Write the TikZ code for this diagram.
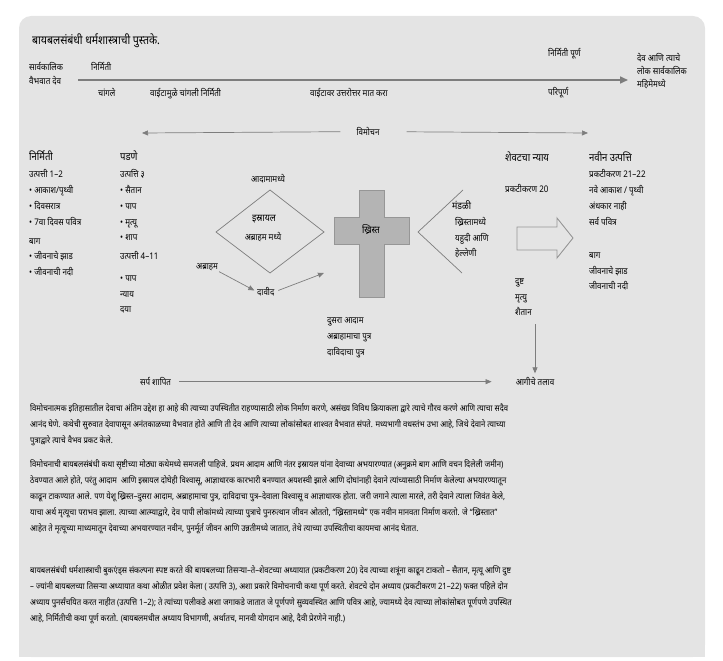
\documentclass[tikz,border=0pt]{standalone}
\usepackage{fontspec}
\setmainfont{Noto Sans}[Script=Devanagari, FakeStretch=0.88]
\usetikzlibrary{arrows.meta, positioning}

\definecolor{panelgray}{RGB}{228,228,228}
\definecolor{linegray}{RGB}{125,125,125}
\definecolor{crossgray}{RGB}{180,180,180}
\definecolor{crossedge}{RGB}{150,150,150}

\begin{document}
\begin{tikzpicture}[x=1pt, y=-1pt,
  lbl/.style={anchor=mid west, inner sep=0pt, font=\fontsize{9.1}{11}\selectfont},
  hd/.style={anchor=mid west, inner sep=0pt, font=\fontsize{10.8}{13}\selectfont\bfseries},
  sub/.style={anchor=mid, inner sep=0pt, font=\fontsize{10}{12}\selectfont\bfseries},
  gline/.style={draw=linegray, line width=0.7pt},
  garr/.style={gline, -{Triangle[length=6pt, width=5pt]}},
  para/.style={anchor=north west, inner sep=0pt, align=left, font=\fontsize{8.7}{16}\selectfont}]
\useasboundingbox (0,0) rectangle (723,661);
\fill[panelgray, rounded corners=12pt] (19,16) rectangle (705,657);
\fill[panelgray] (19,40) rectangle (705,657);

%% top time line
\node[hd, font=\fontsize{12}{14}\selectfont\bfseries] (title) at (32,42) {बायबलसंबंधी धर्मशास्त्राची पुस्तके.};
\node[lbl] (eternal1) at (29,68) {सार्वकालिक};
\node[lbl] (eternal2) at (29,82) {वैभवात देव};
\coordinate (tl-a) at (78,80);
\coordinate (tl-b) at (628,80);
\draw[garr, line width=1.6pt, -{Triangle[length=8pt, width=7pt]}] (tl-a) -- (tl-b);
\node[lbl] (crt) at (91,68) {निर्मिती};
\node[lbl] (good) at (98,94) {चांगले};
\node[lbl] (goodevil) at (150,94) {वाईटामुळे चांगली निर्मिती};
\node[lbl] (overcome) at (310,94) {वाईटावर उत्तरोत्तर मात करा};
\node[lbl] (crtdone) at (548,54) {निर्मिती पूर्ण};
\node[lbl] (perfect) at (548,93) {परिपूर्ण};
\node[lbl] (glory1) at (637,59) {देव आणि त्याचे};
\node[lbl] (glory2) at (637,72) {लोक सार्वकालिक};
\node[lbl] (glory3) at (637,85) {महिमेमध्ये};

%% redemption line
\node[lbl, anchor=mid] (redemp) at (368,133) {विमोचन};
\coordinate (rd-a) at (142,133);
\coordinate (rd-b) at (588,133);
\draw[garr, shorten <=16pt] (redemp.west) -- (rd-a);
\draw[garr, shorten <=27pt] (redemp.east) -- (rd-b);

%% creation / fall
\node[hd] (creation) at (29,158) {निर्मिती};
\foreach \y/\t in {175/{उत्पत्ती 1–2}, 191/{• आकाश/पृथ्वी}, 207/{• दिवसरात्र},
  223/{• 7वा दिवस पवित्र}, 242/{बाग}, 257/{• जीवनाचे झाड}, 273/{• जीवनाची नदी}}
  \node[lbl] (cr\y) at (29,\y) {\t};

\node[hd] (fall) at (120,158) {पडणे};
\foreach \y/\t in {175/{उत्पत्ति ३}, 191/{• सैतान}, 207/{• पाप}, 223/{• मृत्यू},
  238/{• शाप}, 257/{उत्पत्ती 4–11}, 279/{• पाप}, 295/{न्याय}, 310/{दया}}
  \node[lbl] (fl\y) at (120,\y) {\t};

%% israel
\draw[gline] (270,190) -- (324,232) -- (270,273) -- (216,232) -- cycle;
\node[lbl, anchor=mid] (inadam) at (268,180) {आदामामध्ये};
\node[sub] (israel) at (264,219) {इस्रायल};
\node[lbl, anchor=mid] (inabr) at (263,238) {अब्राहम मध्ये};
\node[lbl] (abraham) at (196,267) {अब्राहम};
\node[lbl] (david) at (257,293) {दावीद};
\coordinate (cross-in) at (324,273);
\draw[garr, shorten <=1pt, shorten >=3pt] (abraham.south east) -- (david.west);
\draw[garr, shorten <=4pt] (david.east) -- (cross-in);

%% christ
\fill[crossgray, draw=crossedge] (359,190) -- (384,190) -- (384,217) -- (409,217)
  -- (409,244) -- (384,244) -- (384,297) -- (359,297) -- (359,244) -- (334,244)
  -- (334,217) -- (359,217) -- cycle;
\node[sub] (christ) at (371,231) {ख्रिस्त};
\node[lbl] (adam2) at (327,321) {दुसरा आदाम};
\node[lbl] (sonabr) at (327,337) {अब्राहामाचा पुत्र};
\node[lbl] (sondav) at (327,353) {दाविदाचा पुत्र};

%% church
\draw[gline] (463,190) -- (418,232) -- (462,273);
\node[sub, anchor=mid west] (church) at (452,207) {मंडळी};
\node[lbl] (inchrist) at (455,223) {ख्रिस्तामध्ये};
\node[lbl] (jews) at (455,239) {यहुदी आणि};
\node[lbl] (greeks) at (455,254) {हेल्लेणी};

%% judgment
\node[hd] (judg) at (505,159) {शेवटचा न्याय};
\node[lbl] (rev20) at (505,190) {प्रकटीकरण 20};
\draw[draw=linegray!80, line width=0.9pt] (517,227) -- (557,227) -- (557,218) -- (573,238)
  -- (557,258) -- (557,250) -- (517,250) -- cycle;
\node[lbl] (evil) at (515,282) {दुष्ट};
\node[lbl] (death) at (515,298) {मृत्यु};
\node[lbl] (satan) at (515,313) {शैतान};

%% new creation
\node[hd] (newcr) at (589,159) {नवीन उत्पत्ति};
\foreach \y/\t in {175/{प्रकटीकरण 21–22}, 191/{नवे आकाश / पृथ्वी}, 207/{अंधकार नाही},
  223/{सर्व पवित्र}, 256/{बाग}, 272/{जीवनाचे झाड}, 287/{जीवनाची नदी}}
  \node[lbl] (nc\y) at (589,\y) {\t};

%% lake of fire
\node[lbl] (serpent) at (140,383) {सर्प शापित};
\node[lbl, anchor=mid] (lake) at (535,383) {आगीचे तलाव};
\draw[garr, shorten <=8pt, shorten >=24pt] (serpent.east) -- (lake.west);
\draw[garr, shorten <=8pt, shorten >=4pt] (lake.north |- satan.south) -- (lake.north);

%% text
\node[para] (p1) at (30,404) {विमोचनात्मक इतिहासातील देवाचा अंतिम उद्देश हा आहे की त्याच्या उपस्थितीत राहण्यासाठी लोक निर्माण करणे, असंख्य विविध क्रियाकला द्वारे त्याचे गौरव करणे आणि त्याचा सदैव\\
आनंद घेणे. कथेची सुरुवात देवापासून अनंतकाळच्या वैभवात होते आणि ती देव आणि त्याच्या लोकांसोबत शाश्वत वैभवात संपते. मध्यभागी वधस्तंभ उभा आहे, जिथे देवाने त्याच्या\\
पुत्राद्वारे त्याचे वैभव प्रकट केले.};
\node[para] (p2) at (30,460) {विमोचनाची बायबलसंबंधी कथा सृष्टीच्या मोठ्या कथेमध्ये समजली पाहिजे. प्रथम आदाम आणि नंतर इस्रायल यांना देवाच्या अभयारण्यात (अनुक्रमे बाग आणि वचन दिलेली जमीन)\\
ठेवण्यात आले होते, परंतु आदाम \ आणि इस्रायल दोघेही विश्वासू, आज्ञाधारक कारभारी बनण्यात अयशस्वी झाले आणि दोघांनाही देवाने त्यांच्यासाठी निर्माण केलेल्या अभयारण्यातून\\
काढून टाकण्यात आले. पण येशू ख्रिस्त–दुसरा आदाम, अब्राहामाचा पुत्र, दाविदाचा पुत्र–देवाला विश्वासू व आज्ञाधारक होता. जरी जगाने त्याला मारले, तरी देवाने त्याला जिवंत केले,\\
याचा अर्थ मृत्यूचा पराभव झाला. त्याच्या आत्म्याद्वारे, देव पापी लोकांमध्ये त्याच्या पुत्राचे पुनरुत्थान जीवन ओततो, “ख्रिस्तामध्ये” एक नवीन मानवता निर्माण करतो. जे “ख्रिस्तात”\\
आहेत ते मृत्यूच्या माध्यमातून देवाच्या अभयारण्यात नवीन, पुनर्मूर्त जीवन आणि उन्नतीमध्ये जातात, तेथे त्याच्या उपस्थितीचा कायमचा आनंद घेतात.};
\node[para] (p3) at (30,565) {बायबलसंबंधी धर्मशास्त्राची बुकएंड्स संकल्पना स्पष्ट करते की बायबलच्या तिसऱ्या–ते–शेवटच्या अध्यायात (प्रकटीकरण 20) देव त्याच्या शत्रूंना काढून टाकतो – सैतान, मृत्यू आणि दुष्ट\\
– ज्यांनी बायबलच्या तिसऱ्या अध्यायात कथा ओळीत प्रवेश केला ( उत्पत्ति 3), अशा प्रकारे विमोचनाची कथा पूर्ण करते. शेवटचे दोन अध्याय (प्रकटीकरण 21–22) फक्त पहिले दोन\\
अध्याय पुनर्संचयित करत नाहीत (उत्पत्ति 1–2); ते त्यांच्या पलीकडे अशा जगाकडे जातात जे पूर्णपणे सुव्यवस्थित आणि पवित्र आहे, ज्यामध्ये देव त्याच्या लोकांसोबत पूर्णपणे उपस्थित\\
आहे, निर्मितीची कथा पूर्ण करतो. (बायबलमधील अध्याय विभागणी, अर्थातच, मानवी योगदान आहे, दैवी प्रेरणेने नाही.)};
\end{tikzpicture}
\end{document}
